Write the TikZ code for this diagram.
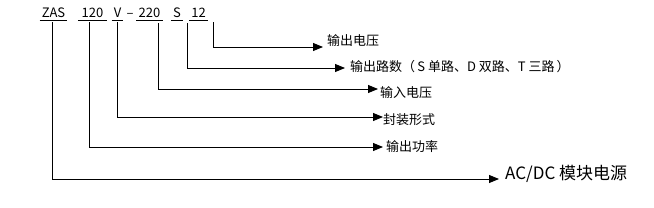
\documentclass[tikz,border=0pt]{standalone}
\usepackage{fontspec}
\setmainfont{Noto Sans CJK SC}
\usetikzlibrary{arrows.meta,calc}
\tikzset{
  code/.style={anchor=base,inner xsep=2pt,inner ysep=0pt,text depth=2pt,font=\fontsize{13}{13}\selectfont},
  ul/.style={line width=0.8pt},
  lbl/.style={anchor=west,inner sep=0pt,font=\fontsize{13}{13}\selectfont},
  big/.style={anchor=west,inner sep=0pt,font=\fontsize{17}{17}\selectfont},
  arr/.style={line width=0.9pt,-{Triangle[length=10pt,width=8pt]}}
}
\begin{document}
\begin{tikzpicture}[x=1pt,y=-1pt]
\useasboundingbox (0,0) rectangle (654,208);
% code row
\node[code,minimum width=27pt] (zas) at (53.5,18) {ZAS};
\node[code,minimum width=29pt] (p120) at (92.5,18) {120};
\node[code,minimum width=9pt] (v) at (117.5,18) {V};
\node[anchor=base,inner sep=0pt,font=\fontsize{13}{13}\selectfont] (dash) at (130,18) {–};
\node[code,minimum width=25pt] (p220) at (149.5,18) {220};
\node[code,minimum width=10pt] (s) at (177,18) {S};
\node[code,minimum width=17pt] (o12) at (198.5,18) {12};
\foreach \n in {zas,p120,v,p220,s,o12}
  \draw[ul] (\n.south west) -- (\n.south east);
% labels
\node[lbl] (l1) at (327,41) {输出电压};
\node[lbl] (l2) at (350,67) {输出路数（\,S 单路、D 双路、T 三路\,）};
\node[lbl] (l3) at (380,93) {输入电压};
\node[lbl] (l4) at (383,120) {封装形式};
\node[lbl] (l5) at (386,147) {输出功率};
\node[big] (l6) at (505,174) {AC/DC 模块电源};
% connectors
\draw[arr] ($(o12.south)+(14.5,2)$) |- ($(l1.west)+(-4,6)$);
\draw[arr] ($(s.south)+(10,3)$) |- ($(l2.west)+(-5,1)$);
\draw[arr] ($(p220.south)+(8.5,3)$) |- ($(l3.west)+(-2,-4)$);
\draw[arr] ($(v.south)+(-0.5,2)$) |- ($(l4.west)+(0,-3)$);
\draw[arr] ($(p120.south)+(-3.5,2)$) |- ($(l5.west)+(-3,0)$);
\draw[arr] ($(zas.south)+(-1.5,2)$) |- ($(l6.west)+(-6,5)$);
\end{tikzpicture}
\end{document}
